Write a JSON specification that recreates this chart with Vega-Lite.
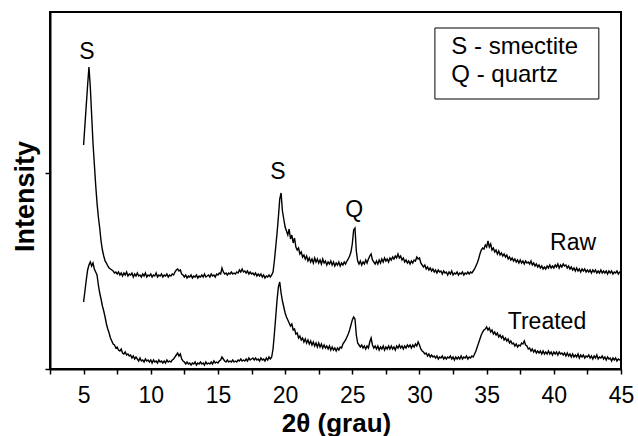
{
"$schema": "https://vega.github.io/schema/vega-lite/v6.json",
"width": 571, "height": 357,
"autosize": {"type": "none"},
"padding": {"left": 50, "top": 12, "right": 17, "bottom": 67},
"background": "white",
"config": {"view": {"stroke": "black", "strokeWidth": 2}, "font": "Liberation Sans"},
"resolve": {"axis": {"x": "independent"}},
"datasets": {
"xrd": [
{"t":5.0,"Raw":224,"Treated":67},{"t":5.1,"Raw":244,"Treated":78},{"t":5.2,"Raw":264,"Treated":89},{"t":5.3,"Raw":284,"Treated":99},{"t":5.4,"Raw":302,"Treated":104},
{"t":5.5,"Raw":282,"Treated":107},{"t":5.6,"Raw":254,"Treated":103},{"t":5.7,"Raw":226,"Treated":106},{"t":5.8,"Raw":205,"Treated":100},{"t":5.9,"Raw":184,"Treated":97},
{"t":6.0,"Raw":166,"Treated":94},{"t":6.1,"Raw":152,"Treated":84},{"t":6.2,"Raw":141,"Treated":76},{"t":6.3,"Raw":128,"Treated":70},{"t":6.4,"Raw":119,"Treated":63},
{"t":6.5,"Raw":113,"Treated":58},{"t":6.6,"Raw":108,"Treated":52},{"t":6.7,"Raw":106,"Treated":45},{"t":6.8,"Raw":103,"Treated":40},{"t":6.9,"Raw":101,"Treated":36},
{"t":7.0,"Raw":100,"Treated":31},{"t":7.1,"Raw":99,"Treated":28},{"t":7.2,"Raw":98,"Treated":25},{"t":7.3,"Raw":96,"Treated":24},{"t":7.4,"Raw":97,"Treated":21},
{"t":7.5,"Raw":95,"Treated":22},{"t":7.6,"Raw":97,"Treated":19},{"t":7.7,"Raw":94,"Treated":18},{"t":7.8,"Raw":96,"Treated":20},{"t":7.9,"Raw":93,"Treated":16},
{"t":8.0,"Raw":96,"Treated":15},{"t":8.1,"Raw":94,"Treated":17},{"t":8.2,"Raw":97,"Treated":14},{"t":8.3,"Raw":93,"Treated":15},{"t":8.4,"Raw":95,"Treated":13},
{"t":8.5,"Raw":94,"Treated":14},{"t":8.6,"Raw":96,"Treated":11},{"t":8.7,"Raw":92,"Treated":13},{"t":8.8,"Raw":95,"Treated":10},{"t":8.9,"Raw":93,"Treated":12},
{"t":9.0,"Raw":96,"Treated":10},{"t":9.1,"Raw":93,"Treated":8},{"t":9.2,"Raw":94,"Treated":11},{"t":9.3,"Raw":92,"Treated":8},{"t":9.4,"Raw":95,"Treated":9},
{"t":9.5,"Raw":93,"Treated":7},{"t":9.6,"Raw":96,"Treated":10},{"t":9.7,"Raw":92,"Treated":8},{"t":9.8,"Raw":94,"Treated":9},{"t":9.9,"Raw":93,"Treated":7},
{"t":10.0,"Raw":95,"Treated":9},{"t":10.1,"Raw":92,"Treated":6},{"t":10.2,"Raw":94,"Treated":9},{"t":10.3,"Raw":93,"Treated":7},{"t":10.4,"Raw":96,"Treated":8},
{"t":10.5,"Raw":92,"Treated":6},{"t":10.6,"Raw":94,"Treated":9},{"t":10.7,"Raw":93,"Treated":7},{"t":10.8,"Raw":95,"Treated":8},{"t":10.9,"Raw":92,"Treated":6},
{"t":11.0,"Raw":94,"Treated":8},{"t":11.1,"Raw":93,"Treated":6},{"t":11.2,"Raw":95,"Treated":9},{"t":11.3,"Raw":92,"Treated":7},{"t":11.4,"Raw":94,"Treated":8},
{"t":11.5,"Raw":93,"Treated":7},{"t":11.6,"Raw":95,"Treated":9},{"t":11.7,"Raw":94,"Treated":10},{"t":11.8,"Raw":97,"Treated":12},{"t":11.9,"Raw":99,"Treated":14},
{"t":12.0,"Raw":100,"Treated":16},{"t":12.1,"Raw":98,"Treated":13},{"t":12.2,"Raw":99,"Treated":15},{"t":12.3,"Raw":95,"Treated":10},{"t":12.4,"Raw":94,"Treated":8},
{"t":12.5,"Raw":92,"Treated":7},{"t":12.6,"Raw":94,"Treated":5},{"t":12.7,"Raw":91,"Treated":7},{"t":12.8,"Raw":93,"Treated":5},{"t":12.9,"Raw":92,"Treated":6},
{"t":13.0,"Raw":94,"Treated":4},{"t":13.1,"Raw":91,"Treated":6},{"t":13.2,"Raw":93,"Treated":5},{"t":13.3,"Raw":92,"Treated":7},{"t":13.4,"Raw":94,"Treated":4},
{"t":13.5,"Raw":91,"Treated":6},{"t":13.6,"Raw":93,"Treated":5},{"t":13.7,"Raw":92,"Treated":7},{"t":13.8,"Raw":94,"Treated":5},{"t":13.9,"Raw":92,"Treated":6},
{"t":14.0,"Raw":95,"Treated":4},{"t":14.1,"Raw":92,"Treated":7},{"t":14.2,"Raw":93,"Treated":5},{"t":14.3,"Raw":94,"Treated":6},{"t":14.4,"Raw":92,"Treated":5},
{"t":14.5,"Raw":95,"Treated":7},{"t":14.6,"Raw":93,"Treated":5},{"t":14.7,"Raw":94,"Treated":8},{"t":14.8,"Raw":92,"Treated":6},{"t":14.9,"Raw":95,"Treated":7},
{"t":15.0,"Raw":94,"Treated":6},{"t":15.1,"Raw":96,"Treated":8},{"t":15.2,"Raw":95,"Treated":9},{"t":15.3,"Raw":101,"Treated":12},{"t":15.4,"Raw":97,"Treated":10},
{"t":15.5,"Raw":95,"Treated":8},{"t":15.6,"Raw":96,"Treated":7},{"t":15.7,"Raw":94,"Treated":9},{"t":15.8,"Raw":96,"Treated":7},{"t":15.9,"Raw":95,"Treated":8},
{"t":16.0,"Raw":97,"Treated":7},{"t":16.1,"Raw":95,"Treated":9},{"t":16.2,"Raw":96,"Treated":7},{"t":16.3,"Raw":95,"Treated":8},{"t":16.4,"Raw":97,"Treated":7},
{"t":16.5,"Raw":96,"Treated":9},{"t":16.6,"Raw":99,"Treated":8},{"t":16.7,"Raw":97,"Treated":10},{"t":16.8,"Raw":100,"Treated":8},{"t":16.9,"Raw":97,"Treated":9},
{"t":17.0,"Raw":98,"Treated":8},{"t":17.1,"Raw":96,"Treated":10},{"t":17.2,"Raw":98,"Treated":8},{"t":17.3,"Raw":95,"Treated":11},{"t":17.4,"Raw":97,"Treated":9},
{"t":17.5,"Raw":95,"Treated":10},{"t":17.6,"Raw":96,"Treated":11},{"t":17.7,"Raw":94,"Treated":9},{"t":17.8,"Raw":96,"Treated":11},{"t":17.9,"Raw":93,"Treated":9},
{"t":18.0,"Raw":95,"Treated":10},{"t":18.1,"Raw":93,"Treated":8},{"t":18.2,"Raw":95,"Treated":11},{"t":18.3,"Raw":92,"Treated":9},{"t":18.4,"Raw":94,"Treated":10},
{"t":18.5,"Raw":91,"Treated":8},{"t":18.6,"Raw":93,"Treated":11},{"t":18.7,"Raw":92,"Treated":9},{"t":18.8,"Raw":94,"Treated":12},{"t":18.9,"Raw":92,"Treated":10},
{"t":19.0,"Raw":94,"Treated":12},{"t":19.1,"Raw":97,"Treated":20},{"t":19.2,"Raw":108,"Treated":35},{"t":19.3,"Raw":122,"Treated":52},{"t":19.4,"Raw":136,"Treated":69},
{"t":19.5,"Raw":152,"Treated":82},{"t":19.6,"Raw":170,"Treated":87},{"t":19.7,"Raw":176,"Treated":76},{"t":19.8,"Raw":158,"Treated":68},{"t":19.9,"Raw":150,"Treated":62},
{"t":20.0,"Raw":142,"Treated":56},{"t":20.1,"Raw":138,"Treated":52},{"t":20.2,"Raw":134,"Treated":49},{"t":20.3,"Raw":140,"Treated":46},{"t":20.4,"Raw":130,"Treated":43},
{"t":20.5,"Raw":134,"Treated":45},{"t":20.6,"Raw":126,"Treated":39},{"t":20.7,"Raw":131,"Treated":40},{"t":20.8,"Raw":122,"Treated":35},{"t":20.9,"Raw":119,"Treated":36},
{"t":21.0,"Raw":121,"Treated":31},{"t":21.1,"Raw":115,"Treated":33},{"t":21.2,"Raw":117,"Treated":29},{"t":21.3,"Raw":112,"Treated":31},{"t":21.4,"Raw":114,"Treated":27},
{"t":21.5,"Raw":110,"Treated":30},{"t":21.6,"Raw":113,"Treated":26},{"t":21.7,"Raw":108,"Treated":29},{"t":21.8,"Raw":111,"Treated":25},{"t":21.9,"Raw":107,"Treated":28},
{"t":22.0,"Raw":110,"Treated":24},{"t":22.1,"Raw":106,"Treated":27},{"t":22.2,"Raw":111,"Treated":23},{"t":22.3,"Raw":107,"Treated":26},{"t":22.4,"Raw":110,"Treated":22},
{"t":22.5,"Raw":106,"Treated":26},{"t":22.6,"Raw":109,"Treated":22},{"t":22.7,"Raw":105,"Treated":25},{"t":22.8,"Raw":110,"Treated":21},{"t":22.9,"Raw":106,"Treated":24},
{"t":23.0,"Raw":108,"Treated":21},{"t":23.1,"Raw":104,"Treated":23},{"t":23.2,"Raw":107,"Treated":20},{"t":23.3,"Raw":105,"Treated":23},{"t":23.4,"Raw":108,"Treated":19},
{"t":23.5,"Raw":104,"Treated":22},{"t":23.6,"Raw":107,"Treated":19},{"t":23.7,"Raw":103,"Treated":21},{"t":23.8,"Raw":106,"Treated":18},{"t":23.9,"Raw":104,"Treated":21},
{"t":24.0,"Raw":107,"Treated":19},{"t":24.1,"Raw":103,"Treated":22},{"t":24.2,"Raw":106,"Treated":21},{"t":24.3,"Raw":104,"Treated":25},{"t":24.4,"Raw":107,"Treated":27},
{"t":24.5,"Raw":105,"Treated":29},{"t":24.6,"Raw":108,"Treated":32},{"t":24.7,"Raw":110,"Treated":35},{"t":24.8,"Raw":113,"Treated":39},{"t":24.9,"Raw":117,"Treated":44},
{"t":25.0,"Raw":125,"Treated":49},{"t":25.1,"Raw":139,"Treated":52},{"t":25.2,"Raw":141,"Treated":50},{"t":25.3,"Raw":118,"Treated":34},{"t":25.4,"Raw":108,"Treated":26},
{"t":25.5,"Raw":105,"Treated":24},{"t":25.6,"Raw":108,"Treated":22},{"t":25.7,"Raw":104,"Treated":24},{"t":25.8,"Raw":107,"Treated":21},{"t":25.9,"Raw":105,"Treated":23},
{"t":26.0,"Raw":109,"Treated":20},{"t":26.1,"Raw":106,"Treated":23},{"t":26.2,"Raw":110,"Treated":21},{"t":26.3,"Raw":113,"Treated":27},{"t":26.4,"Raw":115,"Treated":31},
{"t":26.5,"Raw":109,"Treated":24},{"t":26.6,"Raw":107,"Treated":21},{"t":26.7,"Raw":105,"Treated":23},{"t":26.8,"Raw":108,"Treated":20},{"t":26.9,"Raw":105,"Treated":23},
{"t":27.0,"Raw":109,"Treated":19},{"t":27.1,"Raw":106,"Treated":22},{"t":27.2,"Raw":110,"Treated":20},{"t":27.3,"Raw":107,"Treated":23},{"t":27.4,"Raw":111,"Treated":19},
{"t":27.5,"Raw":108,"Treated":22},{"t":27.6,"Raw":110,"Treated":20},{"t":27.7,"Raw":107,"Treated":23},{"t":27.8,"Raw":111,"Treated":20},{"t":27.9,"Raw":109,"Treated":23},
{"t":28.0,"Raw":112,"Treated":20},{"t":28.1,"Raw":110,"Treated":22},{"t":28.2,"Raw":113,"Treated":19},{"t":28.3,"Raw":111,"Treated":23},{"t":28.4,"Raw":115,"Treated":21},
{"t":28.5,"Raw":111,"Treated":24},{"t":28.6,"Raw":113,"Treated":21},{"t":28.7,"Raw":109,"Treated":23},{"t":28.8,"Raw":111,"Treated":20},{"t":28.9,"Raw":107,"Treated":23},
{"t":29.0,"Raw":109,"Treated":21},{"t":29.1,"Raw":106,"Treated":24},{"t":29.2,"Raw":108,"Treated":22},{"t":29.3,"Raw":105,"Treated":24},{"t":29.4,"Raw":108,"Treated":21},
{"t":29.5,"Raw":106,"Treated":24},{"t":29.6,"Raw":109,"Treated":22},{"t":29.7,"Raw":108,"Treated":25},{"t":29.8,"Raw":112,"Treated":23},{"t":29.9,"Raw":110,"Treated":27},
{"t":30.0,"Raw":111,"Treated":24},{"t":30.1,"Raw":106,"Treated":20},{"t":30.2,"Raw":104,"Treated":18},{"t":30.3,"Raw":102,"Treated":17},{"t":30.4,"Raw":104,"Treated":15},
{"t":30.5,"Raw":100,"Treated":16},{"t":30.6,"Raw":102,"Treated":13},{"t":30.7,"Raw":99,"Treated":15},{"t":30.8,"Raw":101,"Treated":12},{"t":30.9,"Raw":98,"Treated":14},
{"t":31.0,"Raw":100,"Treated":12},{"t":31.1,"Raw":97,"Treated":13},{"t":31.2,"Raw":99,"Treated":11},{"t":31.3,"Raw":96,"Treated":13},{"t":31.4,"Raw":99,"Treated":10},
{"t":31.5,"Raw":97,"Treated":12},{"t":31.6,"Raw":98,"Treated":11},{"t":31.7,"Raw":95,"Treated":13},{"t":31.8,"Raw":98,"Treated":10},{"t":31.9,"Raw":96,"Treated":12},
{"t":32.0,"Raw":97,"Treated":10},{"t":32.1,"Raw":94,"Treated":12},{"t":32.2,"Raw":97,"Treated":11},{"t":32.3,"Raw":95,"Treated":13},{"t":32.4,"Raw":98,"Treated":10},
{"t":32.5,"Raw":94,"Treated":12},{"t":32.6,"Raw":96,"Treated":9},{"t":32.7,"Raw":95,"Treated":12},{"t":32.8,"Raw":97,"Treated":10},{"t":32.9,"Raw":94,"Treated":12},
{"t":33.0,"Raw":96,"Treated":10},{"t":33.1,"Raw":95,"Treated":13},{"t":33.2,"Raw":97,"Treated":10},{"t":33.3,"Raw":94,"Treated":12},{"t":33.4,"Raw":96,"Treated":11},
{"t":33.5,"Raw":95,"Treated":13},{"t":33.6,"Raw":97,"Treated":10},{"t":33.7,"Raw":95,"Treated":12},{"t":33.8,"Raw":97,"Treated":11},{"t":33.9,"Raw":96,"Treated":13},
{"t":34.0,"Raw":98,"Treated":12},{"t":34.1,"Raw":100,"Treated":15},{"t":34.2,"Raw":103,"Treated":18},{"t":34.3,"Raw":106,"Treated":22},{"t":34.4,"Raw":110,"Treated":26},
{"t":34.5,"Raw":115,"Treated":30},{"t":34.6,"Raw":119,"Treated":34},{"t":34.7,"Raw":121,"Treated":37},{"t":34.8,"Raw":120,"Treated":39},{"t":34.9,"Raw":124,"Treated":40},
{"t":35.0,"Raw":122,"Treated":42},{"t":35.1,"Raw":128,"Treated":39},{"t":35.2,"Raw":122,"Treated":41},{"t":35.3,"Raw":125,"Treated":37},{"t":35.4,"Raw":119,"Treated":39},
{"t":35.5,"Raw":121,"Treated":35},{"t":35.6,"Raw":117,"Treated":37},{"t":35.7,"Raw":119,"Treated":34},{"t":35.8,"Raw":115,"Treated":36},{"t":35.9,"Raw":118,"Treated":32},
{"t":36.0,"Raw":114,"Treated":34},{"t":36.1,"Raw":116,"Treated":31},{"t":36.2,"Raw":113,"Treated":33},{"t":36.3,"Raw":115,"Treated":29},{"t":36.4,"Raw":112,"Treated":31},
{"t":36.5,"Raw":114,"Treated":28},{"t":36.6,"Raw":110,"Treated":30},{"t":36.7,"Raw":112,"Treated":26},{"t":36.8,"Raw":109,"Treated":28},{"t":36.9,"Raw":111,"Treated":25},
{"t":37.0,"Raw":108,"Treated":26},{"t":37.1,"Raw":110,"Treated":23},{"t":37.2,"Raw":107,"Treated":25},{"t":37.3,"Raw":109,"Treated":22},{"t":37.4,"Raw":106,"Treated":24},
{"t":37.5,"Raw":109,"Treated":23},{"t":37.6,"Raw":106,"Treated":26},{"t":37.7,"Raw":108,"Treated":25},{"t":37.8,"Raw":105,"Treated":28},{"t":37.9,"Raw":108,"Treated":24},
{"t":38.0,"Raw":106,"Treated":23},{"t":38.1,"Raw":107,"Treated":20},{"t":38.2,"Raw":105,"Treated":21},{"t":38.3,"Raw":108,"Treated":18},{"t":38.4,"Raw":104,"Treated":20},
{"t":38.5,"Raw":106,"Treated":17},{"t":38.6,"Raw":103,"Treated":19},{"t":38.7,"Raw":105,"Treated":16},{"t":38.8,"Raw":102,"Treated":18},{"t":38.9,"Raw":104,"Treated":16},
{"t":39.0,"Raw":101,"Treated":18},{"t":39.1,"Raw":103,"Treated":15},{"t":39.2,"Raw":100,"Treated":18},{"t":39.3,"Raw":102,"Treated":15},{"t":39.4,"Raw":100,"Treated":17},
{"t":39.5,"Raw":103,"Treated":15},{"t":39.6,"Raw":101,"Treated":18},{"t":39.7,"Raw":104,"Treated":15},{"t":39.8,"Raw":101,"Treated":17},{"t":39.9,"Raw":103,"Treated":14},
{"t":40.0,"Raw":101,"Treated":17},{"t":40.1,"Raw":104,"Treated":15},{"t":40.2,"Raw":102,"Treated":17},{"t":40.3,"Raw":105,"Treated":14},{"t":40.4,"Raw":101,"Treated":17},
{"t":40.5,"Raw":104,"Treated":15},{"t":40.6,"Raw":102,"Treated":16},{"t":40.7,"Raw":105,"Treated":14},{"t":40.8,"Raw":103,"Treated":16},{"t":40.9,"Raw":104,"Treated":13},
{"t":41.0,"Raw":101,"Treated":16},{"t":41.1,"Raw":103,"Treated":13},{"t":41.2,"Raw":100,"Treated":15},{"t":41.3,"Raw":102,"Treated":12},{"t":41.4,"Raw":99,"Treated":15},
{"t":41.5,"Raw":101,"Treated":12},{"t":41.6,"Raw":98,"Treated":14},{"t":41.7,"Raw":101,"Treated":12},{"t":41.8,"Raw":98,"Treated":15},{"t":41.9,"Raw":100,"Treated":11},
{"t":42.0,"Raw":97,"Treated":14},{"t":42.1,"Raw":100,"Treated":12},{"t":42.2,"Raw":98,"Treated":14},{"t":42.3,"Raw":100,"Treated":11},{"t":42.4,"Raw":97,"Treated":13},
{"t":42.5,"Raw":99,"Treated":12},{"t":42.6,"Raw":97,"Treated":14},{"t":42.7,"Raw":99,"Treated":11},{"t":42.8,"Raw":96,"Treated":13},{"t":42.9,"Raw":99,"Treated":10},
{"t":43.0,"Raw":97,"Treated":13},{"t":43.1,"Raw":99,"Treated":11},{"t":43.2,"Raw":96,"Treated":14},{"t":43.3,"Raw":98,"Treated":10},{"t":43.4,"Raw":96,"Treated":12},
{"t":43.5,"Raw":99,"Treated":11},{"t":43.6,"Raw":96,"Treated":13},{"t":43.7,"Raw":98,"Treated":10},{"t":43.8,"Raw":96,"Treated":12},{"t":43.9,"Raw":98,"Treated":9},
{"t":44.0,"Raw":95,"Treated":12},{"t":44.1,"Raw":98,"Treated":10},{"t":44.2,"Raw":96,"Treated":11},{"t":44.3,"Raw":98,"Treated":8},{"t":44.4,"Raw":95,"Treated":11},
{"t":44.5,"Raw":97,"Treated":9},{"t":44.6,"Raw":96,"Treated":11},{"t":44.7,"Raw":98,"Treated":8},{"t":44.8,"Raw":95,"Treated":10},{"t":44.9,"Raw":97,"Treated":9},
{"t":45.0,"Raw":97,"Treated":10}
],
"peaks": [
{"t":5.25,"intensity":317,"label":"S"},
{"t":19.47,"intensity":197,"label":"S"},
{"t":25.15,"intensity":159,"label":"Q"},
{"t":41.43,"intensity":126,"label":"Raw"},
{"t":39.49,"intensity":47,"label":"Treated"}
],
"box": [{"t":31.15,"t2":43.35,"intensity":341,"intensity2":270}],
"key": [
{"t":32.37,"intensity":322,"label":"S - smectite"},
{"t":32.37,"intensity":294,"label":"Q - quartz"}
]
},
"layer": [
{
"data": {"name": "xrd"},
"transform": [{"fold": ["Raw", "Treated"], "as": ["series", "intensity"]}],
"mark": {"type": "line", "color": "black", "strokeWidth": 1.4},
"encoding": {
"x": {"field": "t", "type": "quantitative",
  "scale": {"domain": [2.5, 45], "nice": false, "zero": false},
  "axis": {"title": "2θ (grau)", "orient": "bottom", "values": [5,10,15,20,25,30,35,40,45],
    "grid": false, "tickSize": 5, "tickColor": "black", "tickWidth": 1.5,
    "domainColor": "black", "domainWidth": 2,
    "labelFont": "Liberation Sans", "labelFontSize": 23, "labelColor": "black", "labelPadding": 10,
    "labelFlush": false, "labelOverlap": false,
    "titleFont": "Liberation Sans", "titleFontSize": 26, "titleFontWeight": "bold", "titleColor": "black",
    "titleX": 286, "titleY": 62, "titleBaseline": "alphabetic", "titleAlign": "center"}},
"y": {"field": "intensity", "type": "quantitative",
  "scale": {"domain": [0, 357], "nice": false, "zero": false},
  "axis": {"title": "Intensity", "values": [0, 196], "labels": false,
    "grid": false, "tickSize": 5, "tickColor": "black", "tickWidth": 1.5,
    "domainColor": "black", "domainWidth": 2,
    "titleFont": "Liberation Sans", "titleFontSize": 27, "titleFontWeight": "bold", "titleColor": "black",
    "titleAngle": -90, "titleX": -25, "titleY": 184, "titleAlign": "center", "titleBaseline": "middle"}},
"detail": {"field": "series", "type": "nominal"}
}
},
{
"data": {"name": "box"},
"mark": {"type": "rect", "fill": "white", "stroke": "black", "strokeWidth": 1},
"encoding": {
"x": {"field": "t", "type": "quantitative",
  "axis": {"title": null, "orient": "bottom", "values": [2.5,7.5,12.5,17.5,22.5,27.5,32.5,37.5,42.5],
    "labels": false, "domain": false, "grid": false, "tickSize": 5, "tickColor": "black", "tickWidth": 1.5}},
"x2": {"field": "t2"},
"y": {"field": "intensity", "type": "quantitative"},
"y2": {"field": "intensity2"}
}
},
{
"data": {"name": "key"},
"mark": {"type": "text", "align": "left", "baseline": "middle", "fontSize": 24, "font": "Liberation Sans", "color": "black"},
"encoding": {
"x": {"field": "t", "type": "quantitative", "axis": null},
"y": {"field": "intensity", "type": "quantitative"},
"text": {"field": "label"}
}
},
{
"data": {"name": "peaks"},
"mark": {"type": "text", "align": "center", "baseline": "middle", "fontSize": 23, "font": "Liberation Sans", "color": "black"},
"encoding": {
"x": {"field": "t", "type": "quantitative", "axis": null},
"y": {"field": "intensity", "type": "quantitative"},
"text": {"field": "label"}
}
}
]
}
